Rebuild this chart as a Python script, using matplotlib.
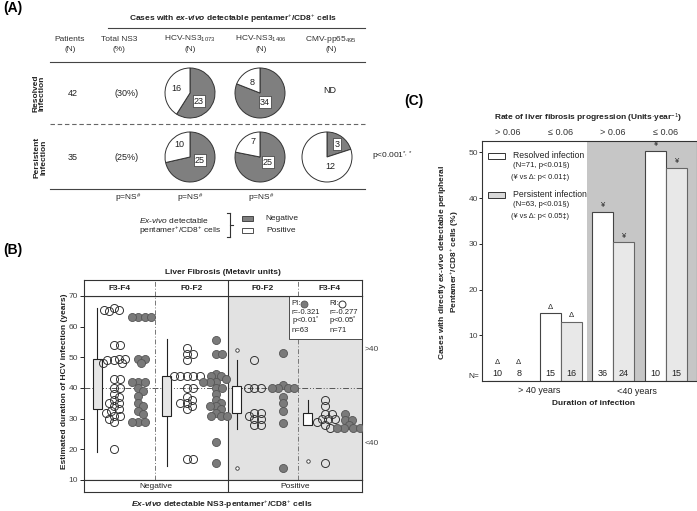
import numpy as np
import matplotlib
matplotlib.use('Agg')
from matplotlib import pyplot as plt
from matplotlib.patches import Rectangle

plt.rcParams['font.family'] = ['Liberation Sans', 'DejaVu Sans']
plt.rcParams['mathtext.fontset'] = 'custom'
plt.rcParams['mathtext.rm'] = 'Liberation Sans'
plt.rcParams['mathtext.it'] = 'Liberation Sans:italic'
plt.rcParams['mathtext.bf'] = 'Liberation Sans:bold'
plt.rcParams['mathtext.sf'] = 'Liberation Sans:bold:italic'
plt.rcParams['font.size'] = 6
plt.rcParams['text.color'] = '#222222'

W, H = 697, 511

# ---- panel A data
col_top = ['Patients', 'Total NS3', 'HCV-NS3$_{1073}$', 'HCV-NS3$_{1406}$', 'CMV-pp65$_{495}$']
col_bot = ['(N)', '(%)', '(N)', '(N)', '(N)']
row_names = ['Resolved\nInfection', 'Persistent\nInfection']
patients = [42, 35]
total_ns3 = ['(30%)', '(25%)']
resolved_neg = [23, 34]
resolved_pos = [16, 8]
persistent_neg = [25, 25, 3]
persistent_pos = [10, 7, 12]
col_pvals = [r'p=NS$^{\#}$', r'p=NS$^{\#}$', r'p=NS$^{\#}$']

# ---- panel B data
fib_groups = ['F3-F4', 'F0-F2', 'F0-F2', 'F3-F4']
ns3_status = ['Negative', 'Positive']
ri_vals = [
    [66, 65.5, 65, 65.5, 54, 54, 49, 49.5, 49, 48, 48, 49.5, 43, 43, 40, 40,
     38, 37, 36, 35, 35, 34, 33, 32.5, 32, 31, 31, 30, 29, 20],
    [53, 51, 51, 49, 44, 44, 44, 44, 44, 40, 40, 37, 36, 35, 35, 34, 33, 17, 17],
    [49, 40, 40, 40, 32, 32, 31, 30, 30, 28, 28],
    [36, 34, 31.5, 31.5, 30, 30, 30, 29, 28, 27, 15.5],
]
pi_vals = [
    [63, 63, 63, 63, 49.5, 49.5, 48, 42, 42, 42, 40, 39, 37.5, 35, 34, 32.5,
     31.5, 29, 29, 29],
    [55.5, 51, 51, 44.5, 44, 44, 43, 42, 42, 42, 40, 40, 38, 36, 35, 34, 34,
     33, 32, 31, 31, 31, 22.5, 15.5],
    [51.5, 41, 40, 40, 40, 40, 37, 35, 32.5, 28.5, 14],
    [31.5, 29.5, 29.5, 28, 27, 27, 27, 27],
]
box_whislo = [19, 14.5, 26.5, 28]
box_q1 = [33, 31, 32, 28]
box_med = [40, 36.6, 34.5, 29.6]
box_q3 = [49.5, 44, 40.5, 32]
box_whishi = [66, 56, 49, 36]
box_fliers = [[], [], [52.5, 14], [16.3]]

# ---- panel C data
rate_labels = ['> 0.06', '\u2264 0.06', '> 0.06', '\u2264 0.06']
resolved_pct = [0, 14.8, 37, 50.3]
persistent_pct = [0, 13, 30.3, 46.7]
resolved_n = [10, 15, 36, 10]
persistent_n = [8, 16, 24, 15]
bar_marks = ['\u0394', '\u0394', '\u00a5', '\u00a5']

GRAY = '#7f7f7f'
fig = plt.figure(figsize=(W / 100, H / 100), dpi=100)
axA = fig.add_axes([0, 0, 1, 1])
axA.set_axis_off()


def T(x, y, s, **kw):
    kw.setdefault('ha', 'center')
    kw.setdefault('va', 'center')
    return axA.text(x, H - y, s, **kw)


def L(x0, x1, y0, y1, **kw):
    kw.setdefault('color', '#444444')
    kw.setdefault('lw', 0.8)
    axA.plot([x0, x1], [H - y0, H - y1], **kw)


# ================= (A)
T(3, 8, '(A)', ha='left', fontsize=10, fontweight='bold', color='black')
T(233, 19, r'Cases with $\mathsf{ex}$-$\mathsf{vivo}$ detectable pentamer$^{+}$/CD8$^{+}$ cells',
  fontweight='bold')
L(108, 365, 28, 28)
for x, a, b in zip([70, 119, 190, 261, 331], col_top, col_bot):
    T(x, 39, a, color='#333333')
    T(x, 49.5, b, color='#333333')
L(50, 365, 61.5, 61.5)
L(50, 365, 124, 124, ls=(0, (4, 2.5)), color='#666666')
L(50, 365, 189, 189)

row_y = [93, 157]
T(39, row_y[0], row_names[0], rotation=90, fontweight='bold', linespacing=1.0)
T(40.5, row_y[1], row_names[1], rotation=90, fontweight='bold', linespacing=1.0)
for i in range(2):
    T(73, row_y[i], str(patients[i]), fontsize=6.5)
    T(127, row_y[i], total_ns3[i], fontsize=6.5)
T(330, 90, 'ND', fontsize=6.5)

pie_x = [190, 260, 327]
neg_off = [[(9, 8), (5, 9)], [(10, 3), (8, 5), (10, -13)]]
pos_off = [[(-14, -5), (-8, -11)], [(-11, -13), (-7, -16), (3, 9)]]
for r, (negs, poss) in enumerate([(resolved_neg, resolved_pos), (persistent_neg, persistent_pos)]):
    for j in range(len(negs)):
        cx, cy = pie_x[j], row_y[r]
        axA.pie([negs[j], poss[j]], colors=[GRAY, 'white'], startangle=90,
                counterclock=False, center=(cx, H - cy), radius=25,
                wedgeprops=dict(edgecolor='#333333', linewidth=0.7))
        dx, dy = neg_off[r][j]
        T(cx + dx, cy + dy, str(negs[j]), fontsize=6.5,
          bbox=dict(boxstyle='square,pad=0.15', fc='white', ec='#333333', lw=0.5))
        dx, dy = pos_off[r][j]
        T(cx + dx, cy + dy, str(poss[j]), fontsize=6.5)

T(372, 156, r'p<0.001$^{*,*}$', ha='left')
for x, p in zip([128, 190, 261], col_pvals):
    T(x, 198, p)

T(139, 220, r'$\mathit{Ex}$-$\mathit{vivo}$ detectable', ha='left')
T(139, 231, r'pentamer$^{+}$/CD8$^{+}$ cells', ha='left')
L(230, 230, 213, 237, color='#333333')
L(227, 230, 213, 213, color='#333333')
L(227, 230, 237, 237, color='#333333')
L(230, 233, 225, 225, color='#333333')
axA.add_patch(Rectangle((242, H - 221), 11, 5, fc=GRAY, ec='#333333', lw=0.6))
axA.add_patch(Rectangle((242, H - 232.5), 11, 5, fc='white', ec='#333333', lw=0.6))
T(265, 218, 'Negative', ha='left')
T(266, 230, 'Positive', ha='left')

# ================= (B)
T(3, 250, '(B)', ha='left', fontsize=10, fontweight='bold', color='black')
T(223, 272, 'Liver Fibrosis (Metavir units)', fontweight='bold')
T(64, 381, 'Estimated duration of HCV infection (years)', rotation=90, fontweight='bold')
T(222, 505, r'$\mathsf{Ex}$-$\mathsf{vivo}$ detectable NS3-pentamer$^{+}$/CD8$^{+}$ cells',
  fontweight='bold')
T(365, 349, '>40', ha='left', color='#444444')
T(365, 443, '<40', ha='left', color='#444444')

axA.set_xlim(0, W)
axA.set_ylim(0, H)
axA.set_aspect('auto')

bounds = [0, 1.02, 2.07, 3.08, 4.0]
box_pos = [0.19, 1.19, 2.20, 3.22]
ri_pos = [0.43, 1.48, 2.45, 3.47]
pi_pos = [0.78, 1.90, 2.86, 3.76]

axB = fig.add_axes([84 / W, 1 - 480 / H, 278 / W, 184 / H])
axB.set_xlim(0, 4)
axB.set_ylim(10, 70)
axB.axvspan(bounds[2], 4, color='#e2e2e2', zorder=0, lw=0)
axB.axhline(40, color='#555555', lw=0.7, ls=(0, (6, 2, 1, 2, 1, 2)), zorder=1)
axB.axvline(bounds[1], color='#777777', lw=0.7, ls=(0, (5, 2, 1, 2)))
axB.axvline(bounds[3], color='#777777', lw=0.7, ls=(0, (5, 2, 1, 2)))
axB.axvline(bounds[2], color='#333333', lw=0.8)
axB.set_xticks([])
axB.set_yticks(range(10, 71, 10))
axB.tick_params(axis='y', length=3, width=0.6, pad=1.5, labelsize=6, labelcolor='#444444')
for s in axB.spines.values():
    s.set_linewidth(0.8)
    s.set_color('#333333')

stats = []
for i in range(4):
    stats.append(dict(whislo=box_whislo[i], q1=box_q1[i], med=box_med[i],
                      q3=box_q3[i], whishi=box_whishi[i], fliers=box_fliers[i]))
bp = axB.bxp(stats, positions=box_pos, widths=0.13, patch_artist=True, showcaps=False,
             boxprops=dict(lw=0.8, edgecolor='#222222'),
             medianprops=dict(color='black', lw=2),
             whiskerprops=dict(color='#222222', lw=0.8),
             flierprops=dict(marker='o', ms=2.5, mfc='white', mec='#333333', mew=0.6),
             manage_ticks=False)
for i, b in enumerate(bp['boxes']):
    b.set_facecolor('#e6e6e6' if i < 2 else 'white')
    b.set_zorder(3)

sx = 278 / 4.0
sy = 184 / 60.0
d = 8.0


def swarm(vals, xc):
    pts = []
    xs = []
    cands = [0]
    for k in range(1, 30):
        cands += [k, -k]
    for v in vals:
        y = v * sy
        x = 0
        for c in cands:
            x = c * d * 0.2
            if all((x - a) ** 2 + (y - b) ** 2 >= (0.62 * d) ** 2 for a, b in pts):
                break
        pts.append((x, y))
        xs.append(xc + x / sx)
    return xs


for i in range(4):
    axB.plot(swarm(ri_vals[i], ri_pos[i]), ri_vals[i], 'o', ms=5.8, mfc='none',
             mec='#333333', mew=0.7, zorder=4)
    axB.plot(swarm(pi_vals[i], pi_pos[i]), pi_vals[i], 'o', ms=5.8, mfc='#7a7a7a',
             mec='#555555', mew=0.6, zorder=4)

# correlation box
axB.add_patch(Rectangle((2.95, 55.9), 1.05, 14.1, fc='white', ec='#333333', lw=0.6, zorder=5))
axB.text(2.99, 67.5, 'PI:', zorder=6, va='center', fontsize=5.5)
axB.plot([3.17], [67.5], 'o', ms=5, mfc='#7a7a7a', mec='#555555', mew=0.6, zorder=6)
axB.text(3.53, 67.5, 'RI:', zorder=6, va='center', fontsize=5.5)
axB.plot([3.71], [67.5], 'o', ms=5, mfc='white', mec='#333333', mew=0.7, zorder=6)
for y, a, b in [(64.6, 'r=-0.321', 'r=-0.277'),
                (61.7, r'p<0.01$^{*}$', r'p<0.05$^{*}$'),
                (58.6, 'n=63', 'n=71')]:
    axB.text(2.99, y, a, zorder=6, va='center', fontsize=5.5)
    axB.text(3.53, y, b, zorder=6, va='center', fontsize=5.5)

axHd = fig.add_axes([84 / W, 1 - 296 / H, 278 / W, 16 / H])
axHd.set_xlim(0, 4)
axHd.set_ylim(0, 1)
axHd.set_xticks([])
axHd.set_yticks([])
axHd.axvline(bounds[1], color='#777777', lw=0.7, ls=(0, (5, 2, 1, 2)))
axHd.axvline(bounds[3], color='#777777', lw=0.7, ls=(0, (5, 2, 1, 2)))
axHd.axvline(bounds[2], color='#333333', lw=0.8)
for i, g in enumerate(fib_groups):
    axHd.text((bounds[i] + bounds[i + 1]) / 2, 0.5, g, ha='center', va='center',
              fontweight='bold')
for s in axHd.spines.values():
    s.set_linewidth(0.8)
    s.set_color('#333333')

axN = fig.add_axes([84 / W, 1 - 492 / H, 278 / W, 12 / H])
axN.set_xlim(0, 4)
axN.set_ylim(0, 1)
axN.set_xticks([])
axN.set_yticks([])
axN.axvline(bounds[2], color='#333333', lw=0.8)
axN.text((bounds[0] + bounds[2]) / 2, 0.5, ns3_status[0], ha='center', va='center')
axN.text((bounds[2] + bounds[4]) / 2, 0.5, ns3_status[1], ha='center', va='center')
for s in axN.spines.values():
    s.set_linewidth(0.8)
    s.set_color('#333333')

# ================= (C)
T(404, 101, '(C)', ha='left', fontsize=10, fontweight='bold', color='black')
T(588, 118, r'Rate of liver fibrosis progression (Units$\cdot$year$^{-1}$)', fontweight='bold')
T(449, 262, 'Cases with directly $\\mathsf{ex}$-$\\mathsf{vivo}$ detectable peripheral\n'
  'Pentamer$^{+}$/CD8$^{+}$ cells (%)', rotation=90, fontweight='bold', linespacing=1.2)
T(479, 376, 'N=', ha='right')

axC = fig.add_axes([482 / W, 1 - 381 / H, 215 / W, 240 / H])
x = np.arange(len(rate_labels))
axC.set_xlim(-0.5, 3.6)
axC.set_ylim(0, 52.5)
axC.axvspan(1.5, 3.6, color='#c6c6c6', zorder=0, lw=0)
axC.bar(x - 0.2, resolved_pct, 0.4, color='white', edgecolor='#444444', lw=0.8, zorder=2)
axC.bar(x + 0.2, persistent_pct, 0.4, color='#e8e8e8', edgecolor='#666666', lw=0.8, zorder=2)
for i in range(4):
    for dx, h, n in [(-0.2, resolved_pct[i], resolved_n[i]), (0.2, persistent_pct[i], persistent_n[i])]:
        axC.text(i + dx, max(h, 2.6) + 0.6, bar_marks[i], ha='center', va='bottom',
                 fontsize=5.5, zorder=3)
        axC.text(i + dx, 0.6, str(n), ha='center', va='bottom', fontsize=6.5, zorder=3)
xt = axC.get_xaxis_transform()
for i, lab in enumerate(rate_labels):
    axC.text(i, 1.0375, lab, transform=xt, ha='center', va='center', fontsize=6.5,
             color='#333333')
axC.text(0.6, -0.04, '> 40 years', transform=xt, ha='center', va='center', fontsize=6.5)
axC.text(2.45, -0.045, '<40 years', transform=xt, ha='center', va='center', fontsize=6.5)
axC.text(1.62, -0.093, 'Duration of infection', transform=xt, ha='center', va='center',
         fontweight='bold')
axC.set_xticks([])
axC.set_yticks(range(10, 51, 10))
axC.tick_params(axis='y', length=2, width=0.6, pad=1, labelsize=6, labelcolor='#444444')
for s in axC.spines.values():
    s.set_linewidth(0.8)
    s.set_color('#333333')

tf = axC.transAxes
axC.add_patch(Rectangle((0.028, 0.925), 0.079, 0.024, transform=tf, fc='white',
                        ec='#333333', lw=0.7, zorder=4))
axC.add_patch(Rectangle((0.028, 0.7625), 0.079, 0.024, transform=tf, fc='#d8d8d8',
                        ec='#333333', lw=0.7, zorder=4))
legend_lines = [(0.143, 0.941, 'Resolved infection', 6.2),
                (0.143, 0.898, '(N=71, p<0.01\u00a7)', 5.6),
                (0.133, 0.849, '(\u00a5 vs \u0394: p< 0.01\u2021)', 5.3),
                (0.143, 0.777, 'Persistent infection', 6.2),
                (0.143, 0.734, '(N=63, p<0.01\u00a7)', 5.6),
                (0.133, 0.685, '(\u00a5 vs \u0394: p< 0.05\u2021)', 5.3)]
for lx, ly, s, fs in legend_lines:
    axC.text(lx, ly, s, transform=tf, ha='left', va='center', fontsize=fs, zorder=4)

fig.savefig('out.png', dpi=100)
